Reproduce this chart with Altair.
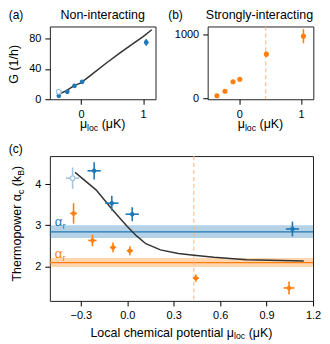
import altair as alt
import pandas as pd

FONT = "Liberation Sans"
BLUE = "#1f77b4"
ORANGE = "#ff7f0e"
LIGHT = "#a3c6de"
DASHC = "#ffb07a"
CURVE = "#333333"

# ---------------- panel (a): non-interacting conductance ----------------
a_x = [-0.356, -0.22, -0.104, 0.019, 1.05]
a_y = [4.5, 9.8, 17.6, 22.9, 74.8]
a_xerr = [0.015, 0.015, 0.015, 0.015, 0.035]
a_yerr = [1.0, 1.2, 1.5, 1.5, 4.4]
a_light_x = [-0.356]
a_light_y = [9.8]
a_curve_x = [-0.36, -0.24, -0.115, 0.0, 0.15, 0.42, 0.64, 0.85, 1.0, 1.14]
a_curve_y = [6.6, 11.0, 17.7, 21.5, 31.0, 48.4, 61.6, 74.0, 82.5, 91.5]

# ---------------- panel (b): strongly-interacting conductance ----------------
b_x = [-0.36, -0.23, -0.10, 0.01, 0.44, 1.04]
b_y = [42, 114, 260, 300, 690, 970]
b_xerr = [0.015, 0.015, 0.015, 0.015, 0.02, 0.02]
b_yerr = [10, 15, 20, 20, 40, 110]

# ---------------- panel (c): thermopower ----------------
c_blue_x = [-0.214, -0.10, 0.032, 1.067]
c_blue_y = [4.33, 3.54, 3.27, 2.91]
c_blue_xerr = [0.043, 0.043, 0.043, 0.043]
c_blue_yerr = [0.21, 0.18, 0.17, 0.18]
c_light_x = [-0.353]
c_light_y = [4.15]
c_light_xerr = [0.043]
c_light_yerr = [0.26]
c_orange_x = [-0.347, -0.225, -0.092, 0.017, 0.443, 1.045]
c_orange_y = [3.29, 2.63, 2.46, 2.38, 1.71, 1.47]
c_orange_xerr = [0.022, 0.027, 0.02, 0.02, 0.02, 0.035]
c_orange_yerr = [0.25, 0.14, 0.12, 0.11, 0.09, 0.16]
c_curve_x = [-0.337, -0.2, -0.1, 0.0, 0.06, 0.12, 0.214, 0.33, 0.43, 0.56, 0.77, 1.0, 1.14]
c_curve_y = [4.29, 3.86, 3.40, 2.97, 2.74, 2.55, 2.40, 2.31, 2.27, 2.22, 2.16, 2.14, 2.13]
blue_band = [2.69, 2.84, 3.0]     # low, centre, high
orange_band = [1.98, 2.09, 2.2]   # low, centre, high
mu_cross = [0.43]
alpha_label_x = [-0.468]
alpha_label_y = [2.98, 2.19]      # blue, orange

# ---------------- helpers ----------------
CW = {' ': 278, '(': 333, ')': 333, '/': 278, '1': 556, 'G': 778, 'h': 556, 'T': 611,
      'e': 556, 'r': 333, 'm': 833, 'o': 556, 'p': 556, 'w': 722, 'c': 500, 'k': 500,
      'B': 667, 'l': 222, 'L': 556, 'a': 556, 'i': 222, 'n': 556, 't': 278, 'K': 667,
      'μ': 576, 'α': 579}


def tw(s, size):
    return sum(CW.get(ch, 556) for ch in s) * size / 1000.0


def text_piece(s, x, y, size, angle=0, color="black", align="left"):
    kw = dict(align=align, baseline="alphabetic", font=FONT, fontSize=size, color=color)
    if angle:
        kw["angle"] = angle
    return alt.Chart(pd.DataFrame({"t": [s]})).mark_text(**kw).encode(
        x=alt.value(x), y=alt.value(y), text="t:N")


def rich(parts, cx, cy, size, angle=0, sub_scale=0.7, sub_shift=2.6):
    widths = [tw(t, size * sub_scale if s else size) for t, s in parts]
    total = sum(widths)
    pos = -total / 2
    layers = []
    for (t, s), w in zip(parts, widths):
        fs = size * sub_scale if s else size
        shift = sub_shift if s else 0
        lead = len(t) - len(t.lstrip())
        off = tw(t[:lead], fs)
        p = pos + off
        if angle == 270:
            layers.append(text_piece(t.strip(), cx + shift, cy - p, fs, angle=270))
        else:
            layers.append(text_piece(t.strip(), cx + p, cy + shift, fs))
        pos += w
    return layers


def axis(vals, fmt=None):
    kw = dict(values=vals, title=None, grid=False, domain=False, ticks=True, tickSize=5,
              tickColor="black", tickWidth=1, labelFont=FONT, labelFontSize=11,
              labelColor="black", labelPadding=4, labelFlush=False, labelOverlap=False)
    if fmt:
        kw["format"] = fmt
    return alt.Axis(**kw)


def errbars(df, xs, ys, xa, ya, color, width):
    h = alt.Chart(df).mark_rule(color=color, strokeWidth=width).encode(
        x=alt.X("xlo:Q", scale=xs, axis=xa), x2="xhi:Q",
        y=alt.Y("y:Q", scale=ys, axis=ya))
    v = alt.Chart(df).mark_rule(color=color, strokeWidth=width).encode(
        x=alt.X("x:Q", scale=xs, axis=xa),
        y=alt.Y("ylo:Q", scale=ys, axis=ya), y2="yhi:Q")
    return [h, v]


def frame(x, y, xe, ye):
    d = pd.DataFrame({"x": x, "y": y, "xe": xe, "ye": ye})
    d["xlo"] = d.x - d.xe
    d["xhi"] = d.x + d.xe
    d["ylo"] = d.y - d.ye
    d["yhi"] = d.y + d.ye
    return d


# ---------------- panel (a) ----------------
WA, HA = 106, 73
xs_a = alt.Scale(domain=[-0.5, 1.2], nice=False, zero=False)
ys_a = alt.Scale(domain=[0, 95.8], nice=False, zero=False)
xa_a = axis([0, 1])
ya_a = axis([0, 40, 80])
da = frame(a_x, a_y, a_xerr, a_yerr)
a_layers = [
    alt.Chart(pd.DataFrame({"x": a_curve_x, "y": a_curve_y})).mark_line(
        color=CURVE, strokeWidth=1.5).encode(
        x=alt.X("x:Q", scale=xs_a, axis=xa_a), y=alt.Y("y:Q", scale=ys_a, axis=ya_a)),
    *errbars(da, xs_a, ys_a, xa_a, ya_a, BLUE, 1.5),
    alt.Chart(da).mark_circle(color=BLUE, size=22, opacity=1).encode(
        x=alt.X("x:Q", scale=xs_a, axis=xa_a), y=alt.Y("y:Q", scale=ys_a, axis=ya_a)),
    alt.Chart(pd.DataFrame({"x": a_light_x, "y": a_light_y})).mark_point(
        shape="circle", fill="white", stroke=LIGHT, strokeWidth=1.3, size=22, opacity=1,
        filled=True).encode(
        x=alt.X("x:Q", scale=xs_a, axis=xa_a), y=alt.Y("y:Q", scale=ys_a, axis=ya_a)),
    text_piece("(a)", -41.3, -7, 12),
    text_piece("Non-interacting", WA / 2, -7, 12.5, align="center"),
    text_piece("G (1/h)", -31.5, 38, 12.5, angle=270, align="center"),
    *rich([("μ", False), ("loc", True), (" (μK)", False)], WA / 2, 102, 12.5),
]
panel_a = alt.layer(*a_layers).properties(width=WA, height=HA)

# ---------------- panel (b) ----------------
WB, HB = 106, 73
xs_b = alt.Scale(domain=[-0.51, 1.2], nice=False, zero=False)
ys_b = alt.Scale(domain=[-11, 1120], nice=False, zero=False)
xa_b = axis([0, 1])
ya_b = axis([0, 1000], "d")
db = frame(b_x, b_y, b_xerr, b_yerr)
b_layers = [
    alt.Chart(pd.DataFrame({"x": mu_cross})).mark_rule(
        color=DASHC, strokeWidth=1, strokeDash=[4, 3]).encode(
        x=alt.X("x:Q", scale=xs_b, axis=xa_b)),
    *errbars(db, xs_b, ys_b, xa_b, ya_b, ORANGE, 1.5),
    alt.Chart(db).mark_circle(color=ORANGE, size=26, opacity=1).encode(
        x=alt.X("x:Q", scale=xs_b, axis=xa_b), y=alt.Y("y:Q", scale=ys_b, axis=ya_b)),
    text_piece("(b)", -39.6, -7, 12),
    text_piece("Strongly-interacting", 52, -7, 12.5, align="center"),
    *rich([("μ", False), ("loc", True), (" (μK)", False)], WB / 2, 102, 12.5),
]
panel_b = alt.layer(*b_layers).properties(width=WB, height=HB)

# ---------------- panel (c) ----------------
WC, HC = 264, 145.3
xs_c = alt.Scale(domain=[-0.5, 1.2], nice=False, zero=False)
ys_c = alt.Scale(domain=[1.154, 4.69], nice=False, zero=False)
xa_c = axis([-0.3, 0.0, 0.3, 0.6, 0.9, 1.2], ".1f")
ya_c = axis([2, 3, 4])
dcb = frame(c_blue_x, c_blue_y, c_blue_xerr, c_blue_yerr)
dcl = frame(c_light_x, c_light_y, c_light_xerr, c_light_yerr)
dco = frame(c_orange_x, c_orange_y, c_orange_xerr, c_orange_yerr)
bands = pd.DataFrame({"lo": [blue_band[0], orange_band[0]],
                      "hi": [blue_band[2], orange_band[2]],
                      "mid": [blue_band[1], orange_band[1]],
                      "s": ["blue", "orange"]})
band_color = alt.Color("s:N", scale=alt.Scale(domain=["blue", "orange"], range=[BLUE, ORANGE]),
                       legend=None)
labels = pd.DataFrame({"x": alpha_label_x * 2, "y": alpha_label_y, "s": ["blue", "orange"],
                       "a": ["α", "α"], "r": ["r", "r"]})
c_layers = [
    alt.Chart(bands).mark_rect(opacity=0.33).encode(
        x=alt.value(0), x2=alt.value(WC),
        y=alt.Y("lo:Q", scale=ys_c, axis=ya_c), y2="hi:Q", color=band_color),
    alt.Chart(bands).mark_rule(strokeWidth=1.3).encode(
        y=alt.Y("mid:Q", scale=ys_c, axis=ya_c), color=band_color),
    alt.Chart(pd.DataFrame({"x": mu_cross})).mark_rule(
        color=DASHC, strokeWidth=1, strokeDash=[4, 3]).encode(
        x=alt.X("x:Q", scale=xs_c, axis=xa_c)),
    alt.Chart(pd.DataFrame({"x": c_curve_x, "y": c_curve_y})).mark_line(
        color=CURVE, strokeWidth=1.5).encode(
        x=alt.X("x:Q", scale=xs_c, axis=xa_c), y=alt.Y("y:Q", scale=ys_c, axis=ya_c)),
    *errbars(dcl, xs_c, ys_c, xa_c, ya_c, LIGHT, 1.6),
    *errbars(dcb, xs_c, ys_c, xa_c, ya_c, BLUE, 1.6),
    *errbars(dco, xs_c, ys_c, xa_c, ya_c, ORANGE, 1.6),
    alt.Chart(dcl).mark_point(
        shape="circle", fill="white", stroke=LIGHT, strokeWidth=1.3, size=20, opacity=1,
        filled=True).encode(
        x=alt.X("x:Q", scale=xs_c, axis=xa_c), y=alt.Y("y:Q", scale=ys_c, axis=ya_c)),
    alt.Chart(dcb).mark_circle(color=BLUE, size=20, opacity=1).encode(
        x=alt.X("x:Q", scale=xs_c, axis=xa_c), y=alt.Y("y:Q", scale=ys_c, axis=ya_c)),
    alt.Chart(dco).mark_circle(color=ORANGE, size=20, opacity=1).encode(
        x=alt.X("x:Q", scale=xs_c, axis=xa_c), y=alt.Y("y:Q", scale=ys_c, axis=ya_c)),
    alt.Chart(labels).mark_text(align="left", baseline="alphabetic", font=FONT,
                                fontSize=13).encode(
        x=alt.X("x:Q", scale=xs_c, axis=xa_c), y=alt.Y("y:Q", scale=ys_c, axis=ya_c),
        text="a:N", color=band_color),
    alt.Chart(labels).mark_text(align="left", baseline="alphabetic", font=FONT,
                                fontSize=9, dx=7.6, dy=2.6).encode(
        x=alt.X("x:Q", scale=xs_c, axis=xa_c), y=alt.Y("y:Q", scale=ys_c, axis=ya_c),
        text="r:N", color=band_color),
    text_piece("(c)", -41.3, -3.5, 12),
    *rich([("Thermopower α", False), ("c", True), (" (k", False), ("B", True), (")", False)],
          -28.6, 67.8, 12.5, angle=270),
    *rich([("Local chemical potential μ", False), ("loc", True), (" (μK)", False)],
          WC / 2, 181.3, 12.5),
]
panel_c = alt.layer(*c_layers).properties(width=WC, height=HC)

top = alt.hconcat(panel_a, panel_b, spacing=52.3, bounds="flush")
chart = alt.vconcat(top, panel_c, spacing=9).properties(
    padding=0
).configure_view(stroke="#222222", strokeWidth=1)

chart.save("out.html", embed_options={"renderer": "svg", "actions": False})
